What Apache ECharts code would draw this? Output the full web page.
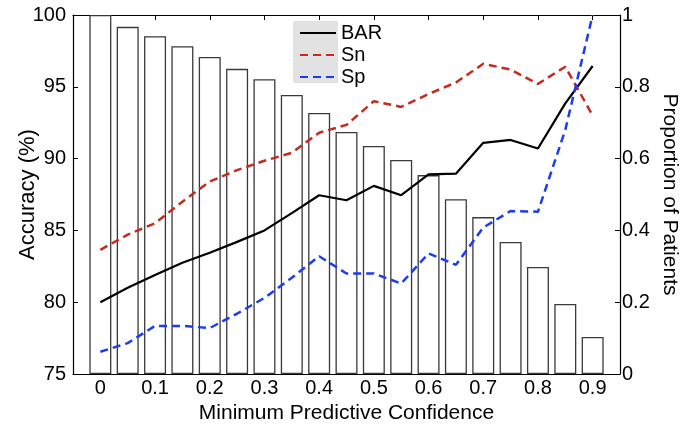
<!DOCTYPE html>
<html>
<head>
<meta charset="utf-8">
<script src="https://cdn.jsdelivr.net/npm/echarts@6/dist/echarts.min.js"></script>
<style>
html,body{margin:0;padding:0;background:#fff;overflow:hidden;}
#chart{width:681px;height:427px;}
</style>
</head>
<body>
<div id="chart"></div>
<script>
// ---- data ----
const confidence = [0,0.05,0.1,0.15,0.2,0.25,0.3,0.35,0.4,0.45,0.5,0.55,0.6,0.65,0.7,0.75,0.8,0.85,0.9];
const proportion = [1.0,0.967,0.941,0.913,0.883,0.850,0.821,0.777,0.727,0.674,0.635,0.596,0.554,0.487,0.437,0.368,0.298,0.195,0.103];
const barAcc = [80.0,81.0,81.9,82.75,83.45,84.2,85.0,86.2,87.45,87.1,88.1,87.45,88.9,88.95,91.1,91.3,90.7,93.85,96.45];
const snAcc  = [83.65,84.7,85.5,87.0,88.4,89.2,89.85,90.4,91.8,92.35,94.0,93.6,94.5,95.3,96.6,96.2,95.2,96.4,93.0];
const spAcc  = [76.55,77.15,78.35,78.35,78.2,79.2,80.3,81.7,83.2,82.0,82.0,81.3,83.4,82.6,85.2,86.35,86.3,92.0,100];
const xTicks = [0,0.1,0.2,0.3,0.4,0.5,0.6,0.7,0.8,0.9];
const leftTicks = [75,80,85,90,95,100];
const rightTicks = [0,0.2,0.4,0.6,0.8,1];
const seriesNames = ['BAR','Sn','Sp'];

const pair = (arr) => confidence.map((c,i)=>[c,arr[i]]);
const fmt = (v) => { const r = Math.round(v*10)/10; return (r===0||r===1) ? String(r) : r.toFixed(1); };
const font = 'Liberation Sans, Arial, Helvetica, sans-serif';

const chart = echarts.init(document.getElementById('chart'), null, {renderer:'canvas', width:681, height:427});
chart.setOption({
  animation:false,
  backgroundColor:'#fff',
  textStyle:{fontFamily:font},
  grid:{left:73,right:61,top:15,bottom:53,containLabel:false,outerBoundsMode:'none'},
  graphic:[{type:'rect',left:293,top:21,shape:{width:45,height:62},style:{fill:'#e2e2e2'},z:90}],
  legend:{
    data:seriesNames, orient:'vertical', left:299, top:23, itemWidth:36, itemHeight:12, itemGap:2,
    padding:0, itemStyle:{opacity:0}, textStyle:{fontSize:20,color:'#000',fontFamily:font}, z:100
  },
  xAxis:[{
    type:'value', min:-0.05, max:0.95, interval:0.05, position:'bottom',
    name:'Minimum Predictive Confidence', nameLocation:'middle', nameGap:28,
    nameTextStyle:{fontSize:21,color:'#000'},
    axisLine:{show:true,lineStyle:{color:'#000',width:1.2}},
    axisTick:{show:true,inside:true,length:5,customValues:xTicks,lineStyle:{color:'#000'}},
    axisLabel:{show:true,customValues:xTicks,fontSize:20,color:'#000',margin:4,formatter:fmt},
    splitLine:{show:false}
  },{
    type:'value', min:-0.05, max:0.95, interval:0.05, position:'top',
    axisLine:{show:true,onZero:false,lineStyle:{color:'#000',width:1.2}},
    axisTick:{show:true,inside:true,length:5,customValues:xTicks,lineStyle:{color:'#000'}},
    axisLabel:{show:false}, splitLine:{show:false}
  }],
  yAxis:[{
    type:'value', min:75, max:100, interval:5, position:'left',
    name:'Accuracy (%)', nameLocation:'middle', nameGap:34, nameRotate:90, nameMoveOverlap:false,
    nameTextStyle:{fontSize:22,color:'#000'},
    axisLine:{show:true,onZero:false,lineStyle:{color:'#000',width:1.2}},
    axisTick:{show:true,inside:true,length:5,lineStyle:{color:'#000'}},
    axisLabel:{fontSize:20,color:'#000',margin:7,customValues:leftTicks},
    splitLine:{show:false}
  },{
    type:'value', min:0, max:1, interval:0.2, position:'right',
    name:'Proportion of Patients', nameLocation:'middle', nameGap:39, nameRotate:-90, nameMoveOverlap:false,
    nameTextStyle:{fontSize:21,color:'#000'},
    axisLine:{show:true,onZero:false,lineStyle:{color:'#000',width:1.2}},
    axisTick:{show:true,inside:true,length:5,lineStyle:{color:'#000'}},
    axisLabel:{fontSize:20,color:'#000',margin:2,customValues:rightTicks,formatter:fmt},
    splitLine:{show:false}
  }],
  series:[{
    name:'Proportion', type:'bar', xAxisIndex:0, yAxisIndex:1, data:pair(proportion),
    barWidth:22, itemStyle:{color:'#fff',borderColor:'#3a3a3a',borderWidth:1.3}, z:1, silent:true
  },{
    name:'BAR', type:'line', xAxisIndex:0, yAxisIndex:0, data:pair(barAcc), symbol:'none',
    color:'#000', lineStyle:{color:'#000',width:2.2,type:'solid'}, z:5
  },{
    name:'Sn', type:'line', xAxisIndex:0, yAxisIndex:0, data:pair(snAcc), symbol:'none',
    color:'#c42a1f', lineStyle:{color:'#c42a1f',width:2.5,type:[8,5]}, z:5
  },{
    name:'Sp', type:'line', xAxisIndex:0, yAxisIndex:0, data:pair(spAcc), symbol:'none',
    color:'#1c3cf2', lineStyle:{color:'#1c3cf2',width:2.5,type:[8,5]}, z:5
  }]
});
</script>
</body>
</html>
